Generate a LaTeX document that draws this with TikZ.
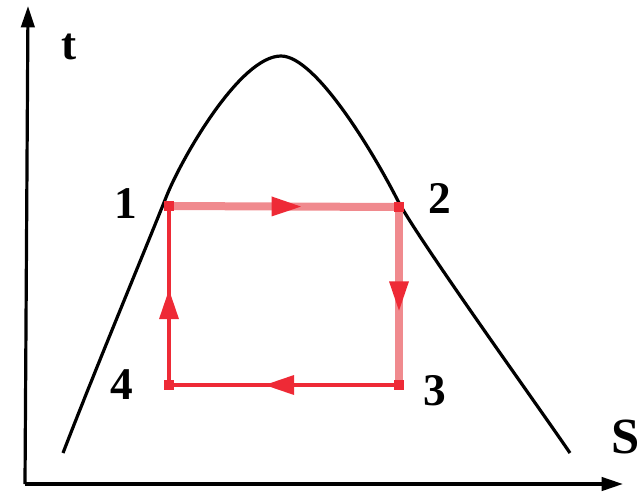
\documentclass[tikz,border=0pt]{standalone}
\usepackage{fontspec}
\setmainfont{Liberation Serif}
\usetikzlibrary{arrows.meta,decorations.markings}
\definecolor{cycred}{HTML}{EE2A36}
\definecolor{cyclight}{HTML}{F08A8E}
\tikzset{
  axisline/.style={line width=2.4pt,-{Triangle[length=16pt,width=10pt]}},
  dome/.style={line width=2.4pt,black},
  lbl/.style={font=\fontsize{34}{34}\selectfont\bfseries,inner sep=0pt},
  thickseg/.style={line width=6pt,cyclight},
  thinseg/.style={line width=2.4pt,cycred},
  midarrow/.style={postaction={decorate,decoration={markings,
     mark=at position #1 with {\fill[cycred] (11pt,0) -- (-11pt,7.5pt) -- (-11pt,-7.5pt) -- cycle;}}}},
  cornerbox/.style={fill=cycred,minimum size=7pt,inner sep=0pt}
}
\begin{document}
\begin{tikzpicture}[x=0.75pt,y=-0.75pt]
\useasboundingbox (0,0) rectangle (640,501);
% axes
\coordinate (O) at (28,484);
\coordinate (Ytop) at (28,6);
\coordinate (Xend) at (623,484);
\draw[axisline] (25,484) -- (Ytop);
\draw[axisline] (O) ++(-3,0) -- (Xend);
\node[lbl] (tlab) at (69,47) {t};
\node[lbl,font=\fontsize{38}{38}\selectfont\bfseries,anchor=east] (slab) at (640,437) {S};
% saturation dome
\draw[dome] (63,453) .. controls (95,370) and (141,260) .. (167,195)
  .. controls (182,158) and (240,56) .. (281,56)
  .. controls (316,56) and (374,154) .. (397,199)
  .. controls (415,235) and (536,403) .. (570,453);
% cycle corners
\coordinate (p1) at (169,206);
\coordinate (p2) at (399,207);
\coordinate (p3) at (399,385);
\coordinate (p4) at (169,385);
\draw[thickseg,midarrow=0.51] (p1) -- (p2);
\draw[thickseg,midarrow=0.5] (p2) -- (p3);
\draw[thinseg,midarrow=0.52] (p3) -- (p4);
\draw[thinseg,midarrow=0.45] (p4) -- (p1);
\node[cornerbox] (c1) at (p1) {};
\node[cornerbox] (c2) at (p2) {};
\node[cornerbox] (c3) at (p3) {};
\node[cornerbox] (c4) at (p4) {};
% labels
\node[lbl] (l1) at (126,204) {1};
\node[lbl] (l2) at (440,198) {2};
\node[lbl] (l3) at (435,391) {3};
\node[lbl] (l4) at (122,385) {4};
\end{tikzpicture}
\end{document}
